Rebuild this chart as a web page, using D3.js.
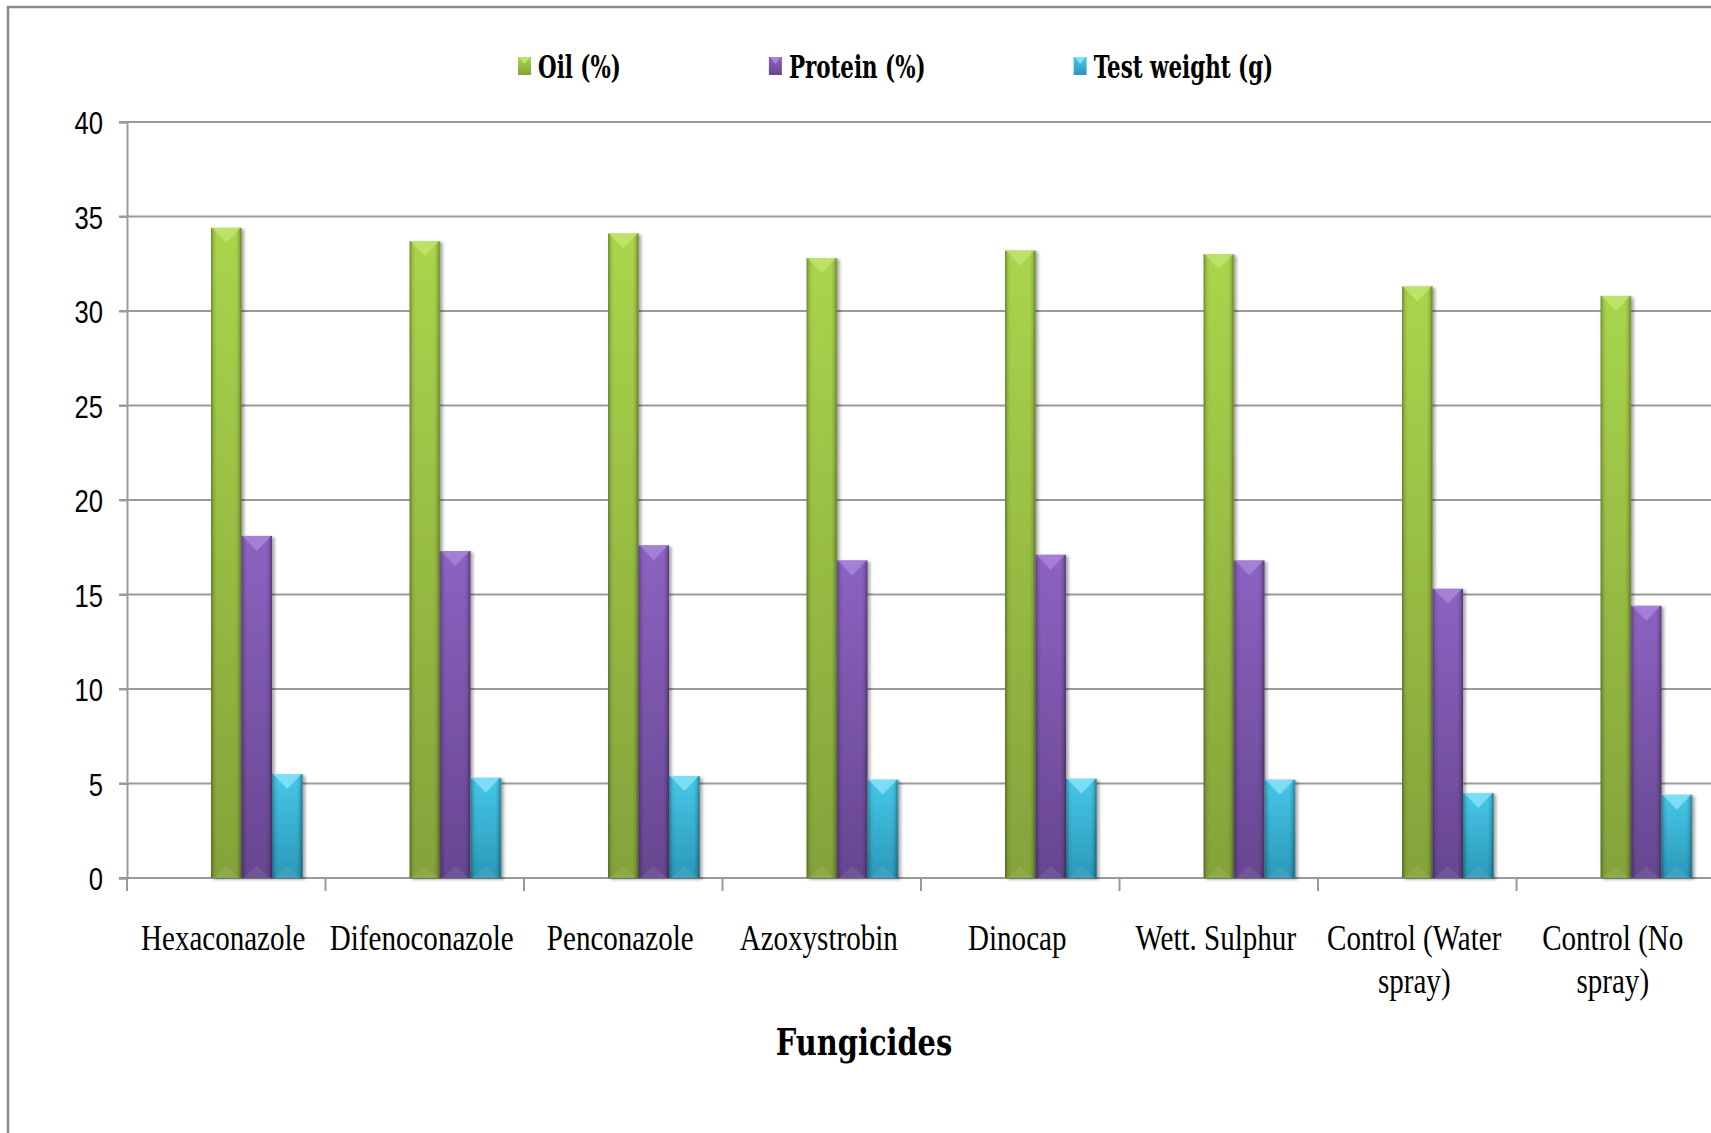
<!DOCTYPE html>
<html>
<head>
<meta charset="utf-8">
<script src="https://cdn.jsdelivr.net/npm/d3@7"></script>
<style>
  body { margin: 0; background: #fff; }
  svg { display: block; }
</style>
</head>
<body>
<script>
// chart data
const categories = ["Hexaconazole", "Difenoconazole", "Penconazole", "Azoxystrobin",
  "Dinocap", "Wett. Sulphur", "Control (Water spray)", "Control (No spray)"];
const oil = [34.4, 33.7, 34.1, 32.8, 33.2, 33.0, 31.3, 30.8];
const protein = [18.1, 17.3, 17.6, 16.8, 17.1, 16.8, 15.3, 14.4];
const testWeight = [5.5, 5.3, 5.4, 5.2, 5.25, 5.2, 4.5, 4.4];
const seriesNames = ["Oil (%)", "Protein (%)", "Test weight (g)"];
const yTicks = [0, 5, 10, 15, 20, 25, 30, 35, 40];
const axisTitle = "Fungicides";

const width = 1711, height = 1133;
const margin = {left: 127, right: 1715, top: 122, bottom: 878};

// colours: [top, bottom, bevel highlight]
const colors = [
  ["#aad54c", "#84a33a", "#bfe46e"],
  ["#8c63c2", "#674690", "#a786d8"],
  ["#46c8e8", "#2b98b9", "#86e2f8"]
];

const series = [oil, protein, testWeight];

const svg = d3.select("body").append("svg")
  .attr("width", width)
  .attr("height", height);

const defs = svg.append("defs");

colors.forEach((c, i) => {
  let g = defs.append("linearGradient").attr("id", "fill" + i)
    .attr("x1", 0).attr("y1", 0).attr("x2", 0).attr("y2", 1);
  g.append("stop").attr("offset", "0%").attr("stop-color", c[0]);
  g.append("stop").attr("offset", "100%").attr("stop-color", c[1]);
});

// darker edges on the left and right of every bar
let edge = defs.append("linearGradient").attr("id", "edge")
  .attr("x1", 0).attr("y1", 0).attr("x2", 1).attr("y2", 0);
[[0, 0.35], [0.1, 0.08], [0.2, 0], [0.8, 0], [0.9, 0.1], [1, 0.4]].forEach(([o, a]) => {
  edge.append("stop").attr("offset", o).attr("stop-color", "#000").attr("stop-opacity", a);
});

let shadow = defs.append("filter").attr("id", "shadow")
  .attr("x", "-20%").attr("y", "-5%").attr("width", "150%").attr("height", "115%");
shadow.append("feDropShadow")
  .attr("dx", 2.5).attr("dy", 1.5).attr("stdDeviation", 1.5)
  .attr("flood-color", "#000").attr("flood-opacity", 0.35);

// outer chart frame
svg.append("rect")
  .attr("x", 8).attr("y", 7)
  .attr("width", 1730).attr("height", 1140)
  .attr("fill", "none")
  .attr("stroke", "#8a8a8a")
  .attr("stroke-width", 2.5);

const x0 = d3.scaleBand()
  .domain(categories)
  .range([margin.left, margin.right]);

// Excel style cluster: five slots with 150% gap, the three series use the last three
const x1 = d3.scaleBand()
  .domain(d3.range(5))
  .range([0, x0.bandwidth()])
  .paddingOuter(0.75);
const seriesSlot = [2, 3, 4];

const y = d3.scaleLinear()
  .domain([0, 40])
  .range([margin.bottom, margin.top]);

// gridlines
svg.append("g")
  .selectAll("line")
  .data(yTicks.filter(d => d > 0))
  .join("line")
  .attr("x1", margin.left - 8)
  .attr("x2", width + 10)
  .attr("y1", d => y(d))
  .attr("y2", d => y(d))
  .attr("stroke", "#9a9a9a")
  .attr("stroke-width", 2);

// y axis
let yAxis = svg.append("g")
  .attr("transform", `translate(${margin.left},0)`)
  .call(d3.axisLeft(y).tickValues(yTicks).tickSize(8).tickPadding(16));
yAxis.select(".domain").attr("stroke", "#9a9a9a").attr("stroke-width", 2);
yAxis.selectAll(".tick line").attr("stroke", "#9a9a9a").attr("stroke-width", 2);
yAxis.selectAll(".tick text")
  .attr("fill", "#000")
  .attr("font-family", "'Liberation Sans', Arial, sans-serif")
  .attr("font-size", 32)
  .attr("dy", "0.36em")
  .each(function() {
    let t = d3.select(this);
    let xx = +t.attr("x");
    t.attr("x", null).attr("transform", `translate(${xx},0) scale(0.8,1)`);
  });

// x axis line and category ticks
let xAxis = svg.append("g");
xAxis.append("line")
  .attr("x1", margin.left - 8).attr("x2", width + 10)
  .attr("y1", y(0)).attr("y2", y(0))
  .attr("stroke", "#9a9a9a").attr("stroke-width", 2);
xAxis.selectAll("line.tick")
  .data(categories)
  .join("line")
  .attr("class", "tick")
  .attr("x1", d => x0(d)).attr("x2", d => x0(d))
  .attr("y1", y(0)).attr("y2", y(0) + 13)
  .attr("stroke", "#9a9a9a").attr("stroke-width", 2);

// bars
const groups = svg.append("g")
  .selectAll("g")
  .data(categories)
  .join("g")
  .attr("transform", d => `translate(${x0(d)},0)`)
  .attr("filter", "url(#shadow)");

groups.each(function(cat, ci) {
  let g = d3.select(this);
  series.forEach((vals, si) => {
    let bx = x1(seriesSlot[si]);
    let bw = x1.bandwidth();
    let top = y(vals[ci]);
    let h = y(0) - top;
    let bevel = Math.min(15, h / 2);
    let bar = g.append("g");
    bar.append("rect")
      .attr("x", bx).attr("y", top)
      .attr("width", bw).attr("height", h)
      .attr("fill", `url(#fill${si})`);
    bar.append("rect")
      .attr("x", bx).attr("y", top)
      .attr("width", bw).attr("height", h)
      .attr("fill", "url(#edge)");
    bar.append("path")
      .attr("d", `M${bx + 1},${top} L${bx + bw - 1},${top} L${bx + bw / 2},${top + bevel} Z`)
      .attr("fill", colors[si][2])
      .attr("opacity", 0.85);
    bar.append("path")
      .attr("d", `M${bx + 2},${y(0)} L${bx + bw - 2},${y(0)} L${bx + bw / 2},${y(0) - 12} Z`)
      .attr("fill", "#fff")
      .attr("opacity", 0.08);
  });
});

// category labels, wrapped inside the band
const labelScale = 0.83;
const labels = svg.append("g")
  .selectAll("text")
  .data(categories)
  .join("text")
  .attr("transform", d => `translate(${x0(d) + x0.bandwidth() / 2 - 3},950) scale(${labelScale},1)`)
  .attr("text-anchor", "middle")
  .attr("font-family", "'Liberation Serif', 'Times New Roman', serif")
  .attr("font-size", 35)
  .attr("fill", "#000");

labels.each(function(d) {
  let text = d3.select(this);
  let words = d.split(" ");
  let lines = [];
  let line = [];
  let probe = text.append("tspan");
  for (let w of words) {
    line.push(w);
    probe.text(line.join(" "));
    if (probe.node().getComputedTextLength() * labelScale > x0.bandwidth() - 8 && line.length > 1) {
      line.pop();
      lines.push(line.join(" "));
      line = [w];
    }
  }
  lines.push(line.join(" "));
  probe.remove();
  lines.forEach((l, i) => {
    text.append("tspan").attr("x", 0).attr("dy", i === 0 ? 0 : 43).text(l);
  });
});

// axis title
svg.append("text")
  .attr("transform", `translate(864,1055) scale(0.78,1)`)
  .attr("text-anchor", "middle")
  .attr("font-family", "'DejaVu Serif', serif")
  .attr("font-weight", "bold")
  .attr("font-size", 37)
  .attr("fill", "#000")
  .text(axisTitle);

// legend
const legendScale = 0.69;
let lx = 518;
seriesNames.forEach((name, i) => {
  let item = svg.append("g");
  item.append("rect")
    .attr("x", lx).attr("y", 57)
    .attr("width", 13).attr("height", 18)
    .attr("fill", `url(#fill${i})`);
  item.append("path")
    .attr("d", `M${lx + 1},57 L${lx + 12},57 L${lx + 6.5},64 Z`)
    .attr("fill", colors[i][2]);
  let t = item.append("text")
    .attr("transform", `translate(${lx + 20},78) scale(${legendScale},1)`)
    .attr("font-family", "'DejaVu Serif', serif")
    .attr("font-weight", "bold")
    .attr("font-size", 31)
    .attr("fill", "#000")
    .text(name);
  lx += 20 + t.node().getComputedTextLength() * legendScale + 148;
});
</script>
</body>
</html>
